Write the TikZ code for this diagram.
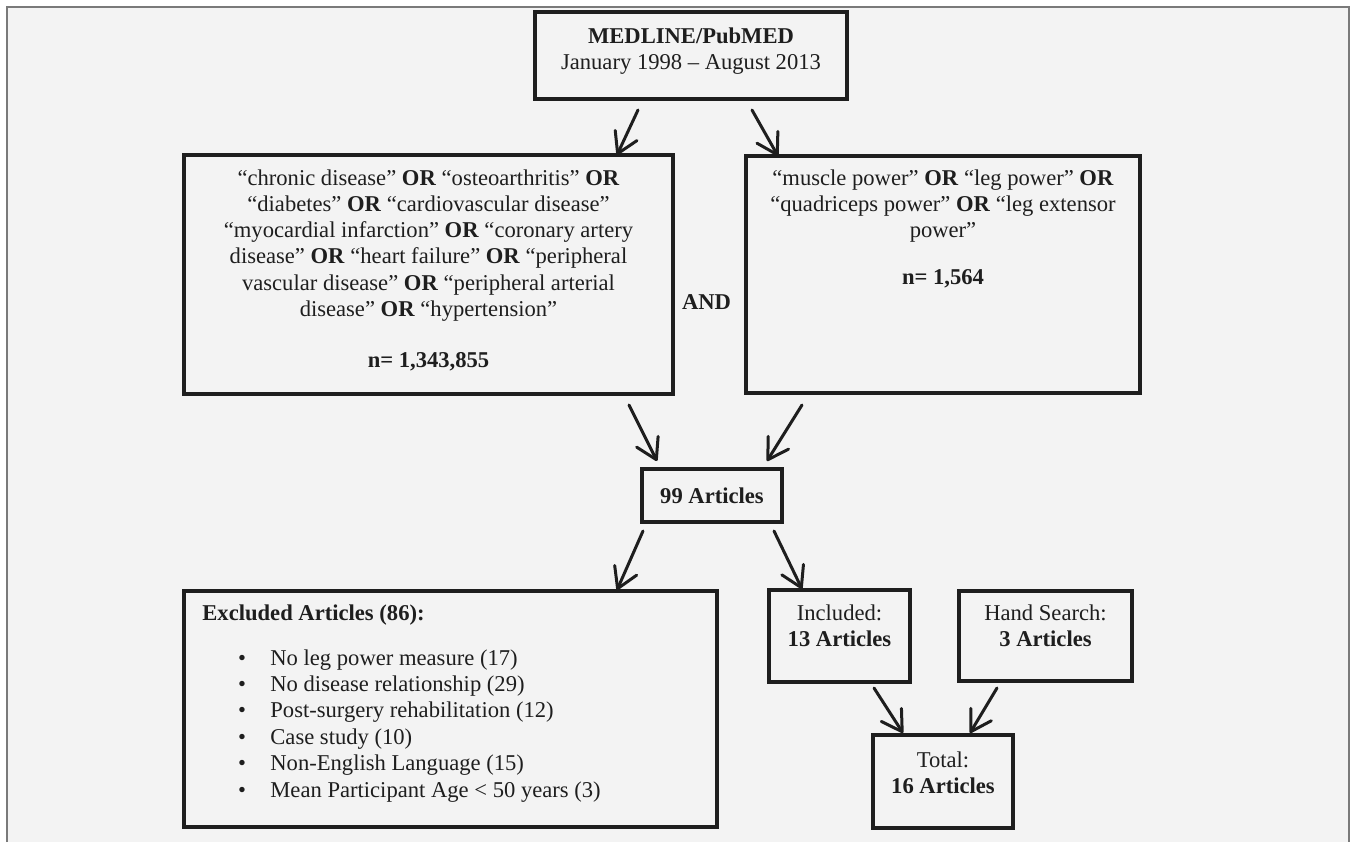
\documentclass[tikz,border=0pt]{standalone}
\usepackage{fontspec}
\setmainfont{Liberation Serif}
\usetikzlibrary{positioning,arrows.meta,calc}

\definecolor{ink}{HTML}{1E1E1E}
\definecolor{paper}{HTML}{F3F3F3}
\definecolor{rim}{HTML}{7A7A7A}

\begin{document}
\begin{tikzpicture}[
    x=0.5pt, y=-0.5pt,
    box/.style={draw=ink, line width=2.2pt, inner sep=0pt, outer sep=0pt},
    txt/.style={text=ink, align=center, inner sep=0pt,
      font=\fontsize{11.3}{13.15}\selectfont},
    arr/.style={draw=ink, line width=1.5pt, line cap=round,
      -{Straight Barb[length=10pt,width=12pt,round]}}
]

\def\pxu{0.5pt}

% page and frame
\useasboundingbox (0,0) rectangle (1355,842);
\fill[white] (0,0) rectangle (1355,842);
\fill[paper] (7,7) rectangle (1349,842);
\draw[rim, line width=0.8pt] (7,842) -- (7,7) -- (1349,7) -- (1349,842);

% boxes
\node[box, minimum width=312*\pxu, minimum height=87*\pxu] (medline) at (691,55.5) {};
\node[box, minimum width=489*\pxu, minimum height=239*\pxu] (lsearch) at (428.5,274.5) {};
\node[box, minimum width=394*\pxu, minimum height=237*\pxu] (rsearch) at (943,274.5) {};
\node[box, minimum width=140*\pxu, minimum height=53*\pxu] (hub) at (712,495.5) {};
\node[box, minimum width=533*\pxu, minimum height=236*\pxu] (excl) at (450.5,709) {};
\node[box, minimum width=141*\pxu, minimum height=92*\pxu] (incl) at (839.5,636) {};
\node[box, minimum width=173*\pxu, minimum height=90*\pxu] (hand) at (1045.5,636) {};
\node[box, minimum width=140*\pxu, minimum height=93*\pxu] (total) at (943,781.5) {};

% texts
\node[txt, anchor=north] (medlinetxt) at ($(medline.north)+(0,15)$)
  {\textbf{MEDLINE/PubMED}\\January 1998 – August 2013};
\node[txt, anchor=north] (lsearchtxt) at ($(lsearch.north)+(0,14)$)
  {“chronic disease” \textbf{OR} “osteoarthritis” \textbf{OR}\\
   “diabetes” \textbf{OR} “cardiovascular disease”\\
   “myocardial infarction” \textbf{OR} “coronary artery\\
   disease” \textbf{OR} “heart failure” \textbf{OR} “peripheral\\
   vascular disease” \textbf{OR} “peripheral arterial\\
   disease” \textbf{OR} “hypertension”\\[12.3pt]
   \textbf{n= 1,343,855}};
\node[txt, anchor=north] (rsearchtxt) at ($(rsearch.north)+(0,13)$)
  {“muscle power” \textbf{OR} “leg power” \textbf{OR}\\
   “quadriceps power” \textbf{OR} “leg extensor\\
   power”\\[10.3pt]
   \textbf{n= 1,564}};
\node[txt, font=\fontsize{11.3}{13.15}\selectfont\bfseries] (andword) at (706.5,302) {AND};
\node[txt, font=\fontsize{11.3}{13.15}\selectfont\bfseries] (hubtxt) at (hub.center) {99 Articles};
\node[txt, anchor=north] (incltxt) at ($(incl.north)+(0,14.5)$) {Included:\\\textbf{13 Articles}};
\node[txt, anchor=north] (handtxt) at ($(hand.north)+(0,13.5)$) {Hand Search:\\\textbf{3 Articles}};
\node[txt, anchor=north] (totaltxt) at ($(total.north)+(0,16.5)$) {Total:\\\textbf{16 Articles}};

% excluded list
\node[txt, anchor=base west] (exclhead) at ($(excl.north west)+(18,29)$) {\textbf{Excluded Articles (86):}};
\def\exclreasons{No leg power measure (17), No disease relationship (29),
  Post-surgery rehabilitation (12), Case study (10),
  Non-English Language (15), Mean Participant Age < 50 years (3)}
\foreach \reason [count=\n from 0] in \exclreasons {
  \node[txt, anchor=base] (dot\n) at ($(excl.north west)+(58,74+26.4*\n)$) {\textbullet};
  \node[txt, anchor=base west] (why\n) at ($(excl.north west)+(86,74+26.4*\n)$) {\reason};
}

% arrows
\foreach \src/\sx/\sy/\dst/\dx/\dy in {
    medline/-53/11/lsearch/188.5/0, medline/61/11/rsearch/-165/0,
    lsearch/200.5/11/hub/-55/-8, rsearch/-141/12/hub/55/-8,
    hub/-69/9/excl/166.5/-1, hub/62/9/incl/-37.5/-1,
    incl/34.5/6/total/-40/-2, hand/-48.5/7/total/27/-2} {
  \draw[arr] ($(\src.south)+(\sx,\sy)$) -- ($(\dst.north)+(\dx,\dy)$);
}

\end{tikzpicture}
\end{document}
